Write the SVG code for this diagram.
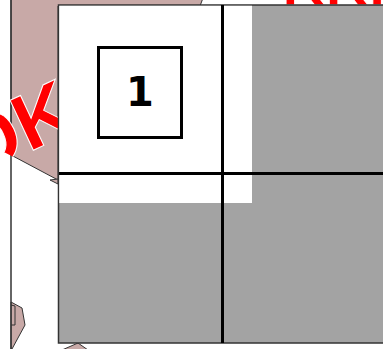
<svg xmlns="http://www.w3.org/2000/svg" width="383" height="349" viewBox="0 0 383 349">
<style>
.pink{fill:#c8a9a7;stroke:#333;stroke-width:1}
.red{fill:#ff0000;stroke:#fff;stroke-width:1;font-family:"Liberation Sans",Arial,sans-serif;font-weight:bold}
.thick{stroke:#000;stroke-width:3;fill:none}
</style>
<defs>
<clipPath id="pinkclip"><polygon points="0,-2 203,-2 200,6 58,6 58,180 0,150"/></clipPath>
</defs>
<rect x="0" y="0" width="383" height="349" fill="#fff"/>
<g id="background">
<polygon class="pink" points="11,-2 203,-2 200,6 58,6 58,180 11,155"/>
<polygon class="pink" points="50,180 58,179 58,184"/>
<polygon class="pink" points="11,302 22,308 25,325 12,349 11,349"/>
<polyline points="11,305 15,306 15,325 11,325" fill="none" stroke="#333" stroke-width="1"/>
<polygon class="pink" points="62,350 78,343 88,350"/>
<line x1="11" y1="0" x2="11" y2="349" stroke="#333" stroke-width="1.5"/>
<g clip-path="url(#pinkclip)">
<text class="red" font-size="80" transform="translate(-27.8,178.8) rotate(-25)">OK</text>
</g>
<text class="red" font-size="60" transform="translate(282,5)">KKK</text>
</g>
<g id="frame">
<rect x="58.5" y="5" width="330" height="338" fill="#a3a3a3" stroke="#333" stroke-width="1.5"/>
<rect x="59.25" y="5.75" width="192.75" height="197.25" fill="#fff"/>
</g>
<g id="connectors">
<line class="thick" x1="222.5" y1="5" x2="222.5" y2="343"/>
<line class="thick" x1="59" y1="173.5" x2="383" y2="173.5"/>
</g>
<g id="node1">
<rect x="98.5" y="47.5" width="83" height="90" fill="#fff" stroke="#000" stroke-width="3"/>
<text x="140" y="106" text-anchor="middle" font-family="DejaVu Sans,sans-serif" font-weight="bold" font-size="40">1</text>
</g>
</svg>
